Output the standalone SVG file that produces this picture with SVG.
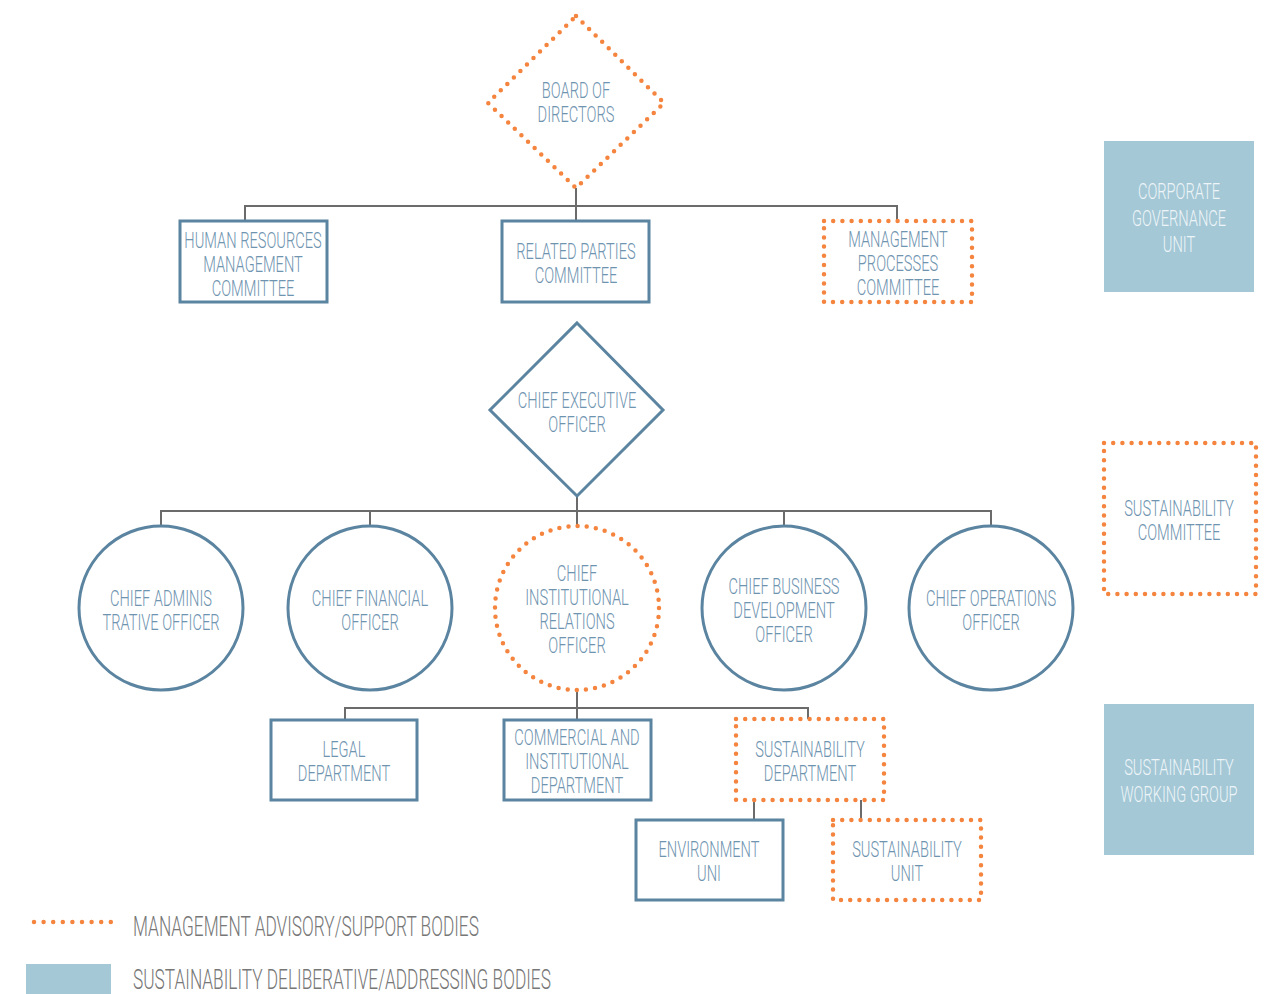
<svg xmlns="http://www.w3.org/2000/svg" width="1271" height="994" viewBox="0 0 1271 994">
  <style>
    .solid { fill: #ffffff; stroke: #5b84a1; stroke-width: 3; }
    .dot { fill: #ffffff; stroke: #f4843e; stroke-width: 4.5; stroke-linecap: round; stroke-dasharray: 0 9.2; }
    .fillbox { fill: #a4c8d6; }
    .link { fill: none; stroke: #6b6b6b; stroke-width: 2; }
    .t { font-family: Roboto, "Liberation Sans", sans-serif; font-weight: 300; font-size: 22.5px; fill: #6f94b0; text-anchor: middle; }
    .tw { font-family: Roboto, "Liberation Sans", sans-serif; font-weight: 300; font-size: 22.5px; fill: #eef5f8; text-anchor: middle; }
    .lg { font-family: Roboto, "Liberation Sans", sans-serif; font-weight: 300; font-size: 27px; fill: #777777; }
  </style>

  <!-- connectors -->
  <g id="connectors">
    <path class="link" d="M576 188 V206 M245 221 V206 H897 V221 M576 206 V221"/>
    <path class="link" d="M577 496 V511 M161 526 V511 H991 V526 M370 511 V526 M577 511 V526 M784 511 V526"/>
    <path class="link" d="M577 690 V708 M345 720 V708 H808 V719 M577 708 V720"/>
    <path class="link" d="M754 800 V820 M861 800 V819"/>
  </g>

  <!-- governing board -->
  <g id="board">
    <path class="dot" d="M576 16 L664 103 L576 188 L488 103 Z"/>
    <g transform="translate(576 0) scale(0.65 1)">
      <text class="t" x="0" y="98">BOARD OF</text>
      <text class="t" x="0" y="122">DIRECTORS</text>
    </g>
  </g>

  <g id="hr-committee">
    <rect class="solid" x="180" y="221" width="147" height="81"/>
    <g transform="translate(253 0) scale(0.65 1)">
      <text class="t" x="0" y="248">HUMAN RESOURCES</text>
      <text class="t" x="0" y="272">MANAGEMENT</text>
      <text class="t" x="0" y="296">COMMITTEE</text>
    </g>
  </g>

  <g id="related-parties">
    <rect class="solid" x="502" y="221" width="147" height="81"/>
    <g transform="translate(576 0) scale(0.65 1)">
      <text class="t" x="0" y="259">RELATED PARTIES</text>
      <text class="t" x="0" y="283">COMMITTEE</text>
    </g>
  </g>

  <g id="mgmt-processes">
    <rect class="dot" x="824" y="221" width="148" height="81"/>
    <g transform="translate(898 0) scale(0.65 1)">
      <text class="t" x="0" y="247">MANAGEMENT</text>
      <text class="t" x="0" y="271">PROCESSES</text>
      <text class="t" x="0" y="295">COMMITTEE</text>
    </g>
  </g>

  <g id="corporate-governance">
    <rect class="fillbox" x="1104" y="141" width="150" height="151"/>
    <g transform="translate(1179 0) scale(0.65 1)">
      <text class="tw" x="0" y="199">CORPORATE</text>
      <text class="tw" x="0" y="226">GOVERNANCE</text>
      <text class="tw" x="0" y="252">UNIT</text>
    </g>
  </g>

  <!-- executive level -->
  <g id="ceo">
    <path class="solid" d="M577 323 L663 410 L577 496 L490 410 Z"/>
    <g transform="translate(577 0) scale(0.65 1)">
      <text class="t" x="0" y="408">CHIEF EXECUTIVE</text>
      <text class="t" x="0" y="432">OFFICER</text>
    </g>
  </g>

  <g id="cao">
    <circle class="solid" cx="161" cy="608" r="82"/>
    <g transform="translate(161 0) scale(0.65 1)">
      <text class="t" x="0" y="606">CHIEF ADMINIS</text>
      <text class="t" x="0" y="630">TRATIVE OFFICER</text>
    </g>
  </g>

  <g id="cfo">
    <circle class="solid" cx="370" cy="608" r="82"/>
    <g transform="translate(370 0) scale(0.65 1)">
      <text class="t" x="0" y="606">CHIEF FINANCIAL</text>
      <text class="t" x="0" y="630">OFFICER</text>
    </g>
  </g>

  <g id="ciro">
    <circle class="dot" cx="577" cy="608" r="82"/>
    <g transform="translate(577 0) scale(0.65 1)">
      <text class="t" x="0" y="581">CHIEF</text>
      <text class="t" x="0" y="605">INSTITUTIONAL</text>
      <text class="t" x="0" y="629">RELATIONS</text>
      <text class="t" x="0" y="653">OFFICER</text>
    </g>
  </g>

  <g id="cbdo">
    <circle class="solid" cx="784" cy="608" r="82"/>
    <g transform="translate(784 0) scale(0.65 1)">
      <text class="t" x="0" y="594">CHIEF BUSINESS</text>
      <text class="t" x="0" y="618">DEVELOPMENT</text>
      <text class="t" x="0" y="642">OFFICER</text>
    </g>
  </g>

  <g id="coo">
    <circle class="solid" cx="991" cy="608" r="82"/>
    <g transform="translate(991 0) scale(0.65 1)">
      <text class="t" x="0" y="606">CHIEF OPERATIONS</text>
      <text class="t" x="0" y="630">OFFICER</text>
    </g>
  </g>

  <g id="sustainability-committee">
    <rect class="dot" x="1104" y="443" width="152" height="151"/>
    <g transform="translate(1179 0) scale(0.65 1)">
      <text class="t" x="0" y="516">SUSTAINABILITY</text>
      <text class="t" x="0" y="540">COMMITTEE</text>
    </g>
  </g>

  <!-- departments -->
  <g id="legal">
    <rect class="solid" x="271" y="720" width="146" height="80"/>
    <g transform="translate(344 0) scale(0.65 1)">
      <text class="t" x="0" y="757">LEGAL</text>
      <text class="t" x="0" y="781">DEPARTMENT</text>
    </g>
  </g>

  <g id="commercial">
    <rect class="solid" x="504" y="720" width="147" height="80"/>
    <g transform="translate(577 0) scale(0.65 1)">
      <text class="t" x="0" y="745">COMMERCIAL AND</text>
      <text class="t" x="0" y="769">INSTITUTIONAL</text>
      <text class="t" x="0" y="793">DEPARTMENT</text>
    </g>
  </g>

  <g id="sustainability-dept">
    <rect class="dot" x="736" y="719" width="148" height="81"/>
    <g transform="translate(810 0) scale(0.65 1)">
      <text class="t" x="0" y="757">SUSTAINABILITY</text>
      <text class="t" x="0" y="781">DEPARTMENT</text>
    </g>
  </g>

  <g id="environment">
    <rect class="solid" x="636" y="820" width="147" height="80"/>
    <g transform="translate(709 0) scale(0.65 1)">
      <text class="t" x="0" y="857">ENVIRONMENT</text>
      <text class="t" x="0" y="881">UNI</text>
    </g>
  </g>

  <g id="sustainability-unit">
    <rect class="dot" x="833" y="820" width="148" height="80"/>
    <g transform="translate(907 0) scale(0.65 1)">
      <text class="t" x="0" y="857">SUSTAINABILITY</text>
      <text class="t" x="0" y="881">UNIT</text>
    </g>
  </g>

  <g id="sustainability-working-group">
    <rect class="fillbox" x="1104" y="704" width="150" height="151"/>
    <g transform="translate(1179 0) scale(0.65 1)">
      <text class="tw" x="0" y="775">SUSTAINABILITY</text>
      <text class="tw" x="0" y="802">WORKING GROUP</text>
    </g>
  </g>

  <!-- legend -->
  <g id="legend">
    <path class="dot" d="M34 922 H111" style="stroke-dasharray: 0 9.6"/>
    <g transform="translate(133 0) scale(0.64 1)">
      <text class="lg" x="0" y="936">MANAGEMENT ADVISORY/SUPPORT BODIES</text>
    </g>
    <rect class="fillbox" x="26" y="964" width="85" height="30"/>
    <g transform="translate(133 0) scale(0.64 1)">
      <text class="lg" x="0" y="989">SUSTAINABILITY DELIBERATIVE/ADDRESSING BODIES</text>
    </g>
  </g>
</svg>
